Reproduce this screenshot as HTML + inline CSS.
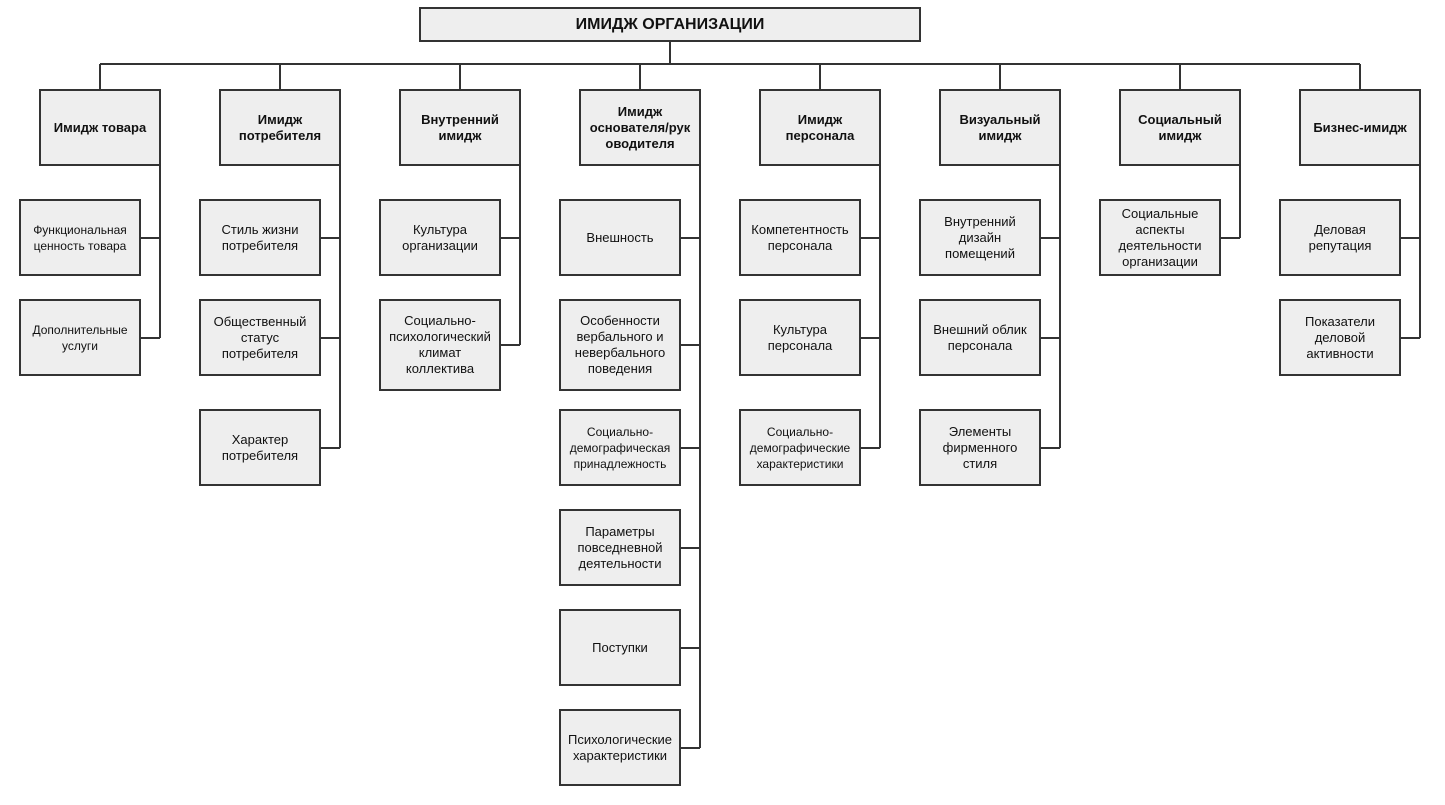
<!DOCTYPE html>
<html><head><meta charset="utf-8"><style>
body{margin:0;width:1445px;height:805px;background:#fff;position:relative;font-family:"Liberation Sans",Arial,sans-serif;overflow:hidden}
.b{position:absolute;box-sizing:border-box;border:2px solid #333;background:#eee;display:flex;align-items:center;justify-content:center;text-align:center;font-size:13px;line-height:16px;color:#111}
.h{font-weight:bold}
.s{font-size:12px;line-height:16px}
svg{position:absolute;left:0;top:0}
</style></head><body>
<svg width="1445" height="805"><g stroke="#333" stroke-width="2" fill="none">
<path d="M670 41V64M100 64H1360"/>
<path d="M100 64V90M280 64V90M460 64V90M640 64V90M820 64V90M1000 64V90M1180 64V90M1360 64V90"/>
<path d="M160 165V338M140 238H160M140 338H160"/>
<path d="M340 165V448M320 238H340M320 338H340M320 448H340"/>
<path d="M520 165V345M500 238H520M500 345H520"/>
<path d="M700 165V748M680 238H700M680 345H700M680 448H700M680 548H700M680 648H700M680 748H700"/>
<path d="M880 165V448M860 238H880M860 338H880M860 448H880"/>
<path d="M1060 165V448M1040 238H1060M1040 338H1060M1040 448H1060"/>
<path d="M1240 165V238M1220 238H1240"/>
<path d="M1420 165V338M1400 238H1420M1400 338H1420"/>
</g></svg>
<div class="b h" style="left:419px;top:7px;width:502px;height:35px;font-size:16px">ИМИДЖ ОРГАНИЗАЦИИ</div>

<div class="b h" style="left:39px;top:89px;width:122px;height:77px">Имидж товара</div>
<div class="b h" style="left:219px;top:89px;width:122px;height:77px">Имидж<br>потребителя</div>
<div class="b h" style="left:399px;top:89px;width:122px;height:77px">Внутренний<br>имидж</div>
<div class="b h" style="left:579px;top:89px;width:122px;height:77px">Имидж<br>основателя/рук<br>оводителя</div>
<div class="b h" style="left:759px;top:89px;width:122px;height:77px">Имидж<br>персонала</div>
<div class="b h" style="left:939px;top:89px;width:122px;height:77px">Визуальный<br>имидж</div>
<div class="b h" style="left:1119px;top:89px;width:122px;height:77px">Социальный<br>имидж</div>
<div class="b h" style="left:1299px;top:89px;width:122px;height:77px">Бизнес-имидж</div>

<div class="b s" style="left:19px;top:199px;width:122px;height:77px">Функциональная<br>ценность товара</div>
<div class="b s" style="left:19px;top:299px;width:122px;height:77px">Дополнительные<br>услуги</div>

<div class="b" style="left:199px;top:199px;width:122px;height:77px">Стиль жизни<br>потребителя</div>
<div class="b" style="left:199px;top:299px;width:122px;height:77px">Общественный<br>статус<br>потребителя</div>
<div class="b" style="left:199px;top:409px;width:122px;height:77px">Характер<br>потребителя</div>

<div class="b" style="left:379px;top:199px;width:122px;height:77px">Культура<br>организации</div>
<div class="b" style="left:379px;top:299px;width:122px;height:92px">Социально-<br>психологический<br>климат<br>коллектива</div>

<div class="b" style="left:559px;top:199px;width:122px;height:77px">Внешность</div>
<div class="b" style="left:559px;top:299px;width:122px;height:92px">Особенности<br>вербального и<br>невербального<br>поведения</div>
<div class="b s" style="left:559px;top:409px;width:122px;height:77px">Социально-<br>демографическая<br>принадлежность</div>
<div class="b" style="left:559px;top:509px;width:122px;height:77px">Параметры<br>повседневной<br>деятельности</div>
<div class="b" style="left:559px;top:609px;width:122px;height:77px">Поступки</div>
<div class="b" style="left:559px;top:709px;width:122px;height:77px">Психологические<br>характеристики</div>

<div class="b" style="left:739px;top:199px;width:122px;height:77px">Компетентность<br>персонала</div>
<div class="b" style="left:739px;top:299px;width:122px;height:77px">Культура<br>персонала</div>
<div class="b s" style="left:739px;top:409px;width:122px;height:77px">Социально-<br>демографические<br>характеристики</div>

<div class="b" style="left:919px;top:199px;width:122px;height:77px">Внутренний<br>дизайн<br>помещений</div>
<div class="b" style="left:919px;top:299px;width:122px;height:77px">Внешний облик<br>персонала</div>
<div class="b" style="left:919px;top:409px;width:122px;height:77px">Элементы<br>фирменного<br>стиля</div>

<div class="b" style="left:1099px;top:199px;width:122px;height:77px">Социальные<br>аспекты<br>деятельности<br>организации</div>

<div class="b" style="left:1279px;top:199px;width:122px;height:77px">Деловая<br>репутация</div>
<div class="b" style="left:1279px;top:299px;width:122px;height:77px">Показатели<br>деловой<br>активности</div>
</body></html>
